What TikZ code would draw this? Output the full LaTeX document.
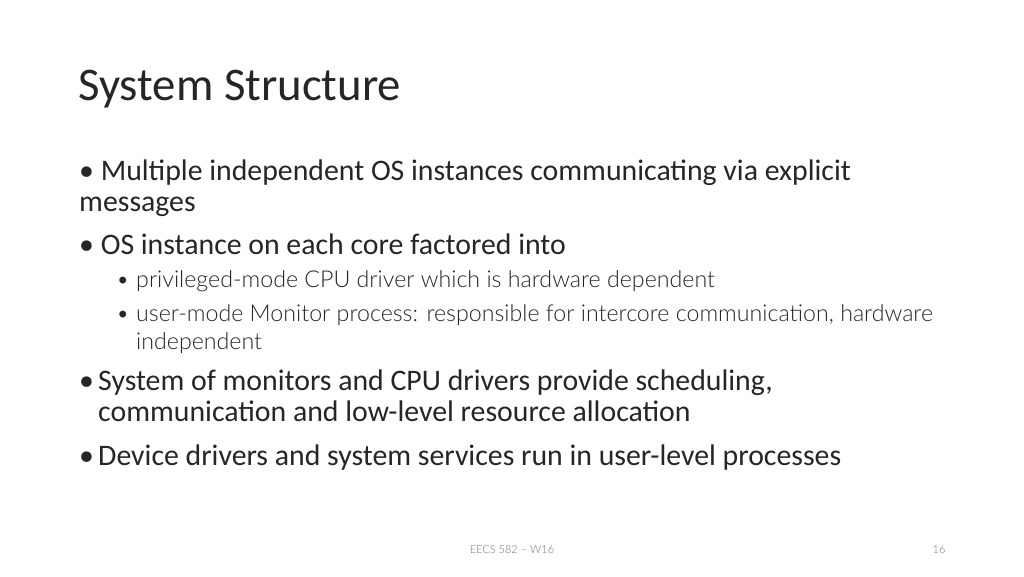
\documentclass[tikz,border=0pt]{standalone}
\usepackage{fontspec}
\setmainfont{Carlito}
\newfontfamily\subf{Lato Light}
\begin{document}
\begin{tikzpicture}[x=1pt,y=-1pt,
  t/.style={anchor=base west,inner sep=0pt,font=\fontsize{29.8}{33}\selectfont,text=black!85},
  s/.style={anchor=base west,inner sep=0pt,font=\subf\fontsize{23.2}{27}\selectfont,text=black!85}]
\useasboundingbox[fill=white] (0,0) rectangle (1024,576);
\node[anchor=base west,inner sep=0pt,font=\fontsize{46.8}{50}\selectfont,text=black!85] (title) at (78,100) {System Structure};
\node[t] (l1) at (79,180) {• Multiple independent OS instances communicating via explicit};
\node[t] (l1b) at (79,211) {messages};
\node[t] (l2) at (79,254) {• OS instance on each core factored into};
\node[s] (b1) at (116,287) {•};
\node[s] (s1) at (136,287) {privileged-mode CPU driver which is hardware dependent};
\node[s] (b2) at (116,321) {•};
\node[s] (s2) at (136,321) {user-mode Monitor process: responsible for intercore communication, hardware};
\node[s] (s2b) at (136,349) {independent};
\node[t] (b3) at (79,390) {•};
\node[t] (l3) at (98,390) {System of monitors and CPU drivers provide scheduling,};
\node[t] (l3b) at (98,421) {communication and low-level resource allocation};
\node[t] (b4) at (79,465) {•};
\node[t] (l4) at (98,465) {Device drivers and system services run in user-level processes};
\node[anchor=base,inner sep=0pt,font=\subf\fontsize{11}{13}\selectfont,text=black!55] (foot) at (512,553) {EECS 582 – W16};
\node[anchor=base,inner sep=0pt,font=\subf\fontsize{11}{13}\selectfont,text=black!55] (num) at (939,553) {16};
\end{tikzpicture}
\end{document}
